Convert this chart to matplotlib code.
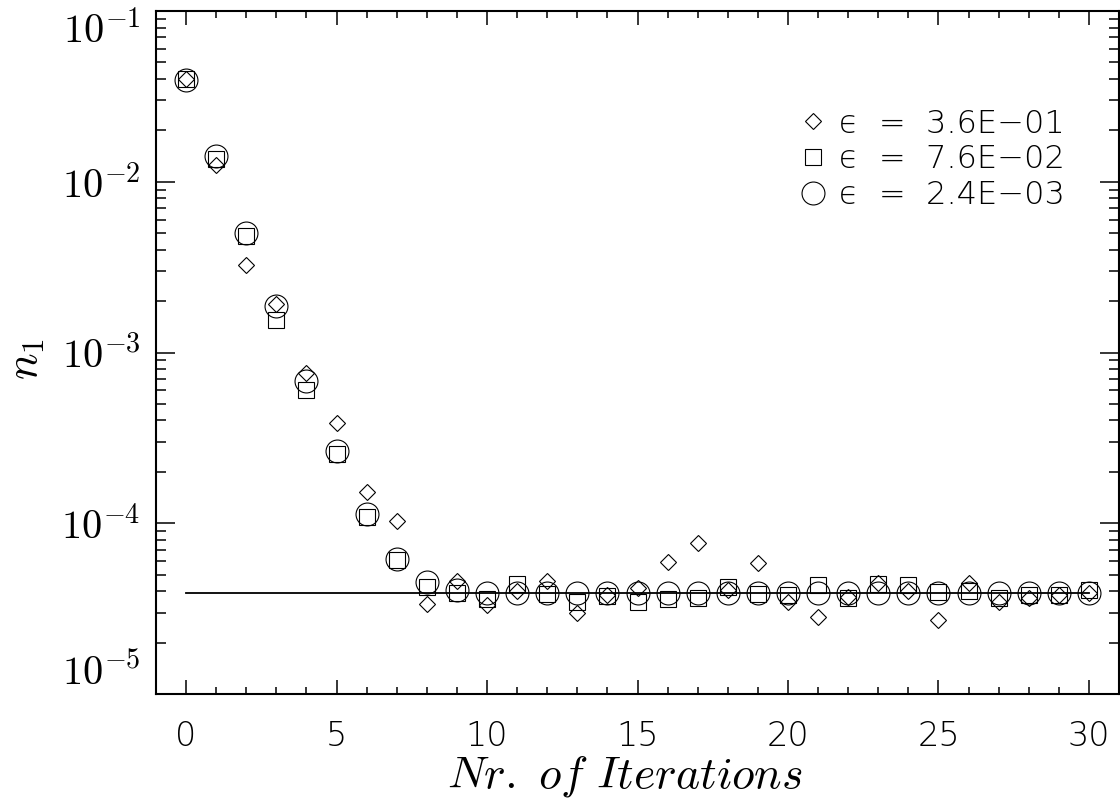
import matplotlib
matplotlib.use("Agg")
import matplotlib.pyplot as plt
from matplotlib.ticker import LogLocator, MultipleLocator, FixedLocator

plt.rcParams['mathtext.fontset'] = 'cm'

iterations = list(range(31))

n1_eps_036 = [0.040, 0.0125, 0.00326, 0.00192, 7.6e-4, 3.85e-4, 1.53e-4, 1.03e-4,
              3.38e-5, 4.59e-5, 3.34e-5, 3.99e-5, 4.59e-5, 2.98e-5, 3.78e-5, 4.18e-5,
              5.96e-5, 7.7e-5, 4.05e-5, 5.86e-5, 3.48e-5, 2.82e-5, 3.70e-5, 4.45e-5,
              4.00e-5, 2.70e-5, 4.47e-5, 3.45e-5, 3.66e-5, 3.78e-5, 3.88e-5]

n1_eps_0076 = [0.040, 0.0136, 0.00478, 0.00154, 6.03e-4, 2.56e-4, 1.09e-4, 6.1e-5,
               4.26e-5, 3.92e-5, 3.58e-5, 4.42e-5, 3.84e-5, 3.48e-5, 3.73e-5, 3.45e-5,
               3.58e-5, 3.66e-5, 4.24e-5, 3.84e-5, 3.78e-5, 4.33e-5, 3.65e-5, 4.42e-5,
               4.33e-5, 3.97e-5, 4.00e-5, 3.65e-5, 3.78e-5, 3.78e-5, 4.07e-5]

n1_eps_00024 = [0.0396, 0.0141, 0.0050, 0.00186, 6.84e-4, 2.64e-4, 1.14e-4, 6.18e-5,
                4.55e-5, 4.08e-5, 3.92e-5, 3.92e-5, 3.92e-5, 3.92e-5, 3.92e-5, 3.92e-5,
                3.88e-5, 3.88e-5, 3.90e-5, 3.90e-5, 3.90e-5, 3.90e-5, 3.88e-5, 3.88e-5,
                3.88e-5, 3.90e-5, 3.88e-5, 3.88e-5, 3.88e-5, 3.88e-5, 3.90e-5]

labels = ['ϵ  =  3.6E−01', 'ϵ  =  7.6E−02', 'ϵ  =  2.4E−03']

ref_x = [0, 30]
ref_level = [3.9e-5, 3.9e-5]

xticks = [0, 5, 10, 15, 20, 25, 30]
xtick_labels = ['0', '5', '10', '15', '20', '25', '30']
yticks = [1e-5, 1e-4, 1e-3, 1e-2, 1e-1]
ytick_labels = [r'$10^{-5}$', r'$10^{-4}$', r'$10^{-3}$', r'$10^{-2}$', r'$10^{-1}$']

thin_font = ['DejaVu Sans']

fig = plt.figure(figsize=(11.2, 8.06), dpi=100)
ax = fig.add_axes([156/1120, (806-694)/806, (1119-156)/1120, (694-11)/806])

ax.plot(ref_x, ref_level, color='black', lw=1.3)
h1, = ax.plot(iterations, n1_eps_036, linestyle='none', marker='D', markersize=8.0,
              markerfacecolor='none', markeredgecolor='black', markeredgewidth=0.8)
h2, = ax.plot(iterations, n1_eps_0076, linestyle='none', marker='s', markersize=11.3,
              markerfacecolor='none', markeredgecolor='black', markeredgewidth=0.8)
h3, = ax.plot(iterations, n1_eps_00024, linestyle='none', marker='o', markersize=16.5,
              markerfacecolor='none', markeredgecolor='black', markeredgewidth=0.8)

ax.set_yscale('log')
ax.set_xlim(-1, 31)
ax.set_ylim(1e-5, 1e-1)

ax.xaxis.set_major_locator(FixedLocator(xticks))
ax.set_xticklabels(xtick_labels, fontfamily=thin_font, fontweight=200, fontsize=24)
ax.xaxis.set_minor_locator(MultipleLocator(1))
ax.yaxis.set_major_locator(FixedLocator(yticks))
ax.set_yticklabels(ytick_labels, fontsize=29)
ax.yaxis.set_minor_locator(LogLocator(base=10, subs=range(2, 10), numticks=20))

ax.tick_params(which='both', direction='in', top=True, right=True, width=1.1, color='black')
ax.tick_params(axis='x', which='major', length=10, pad=19)
ax.tick_params(axis='x', which='minor', length=5)
ax.tick_params(axis='y', which='major', length=14, pad=11)
ax.tick_params(axis='y', which='minor', length=7)

ymaj = ax.yaxis.get_major_ticks()
ymaj[0].label1.set_verticalalignment('bottom')
ymaj[-1].label1.set_verticalalignment('top')

for s in ax.spines.values():
    s.set_linewidth(1.5)

ax.set_xlabel(r'$Nr.\ of\ Iterations$', fontsize=33)
ax.xaxis.set_label_coords(0.487, -0.088)
ax.set_ylabel(r'$n_1$', fontsize=32)
ax.yaxis.set_label_coords(-0.113, 0.49)

leg = ax.legend([h1, h2, h3], labels, loc='upper left', bbox_to_anchor=(0.6687, 0.857),
                frameon=False, handlelength=0.8, handletextpad=0.43, labelspacing=0.18,
                borderpad=0, borderaxespad=0,
                prop={'family': thin_font, 'weight': 200, 'size': 23})

fig.savefig('out.png', dpi=100)
